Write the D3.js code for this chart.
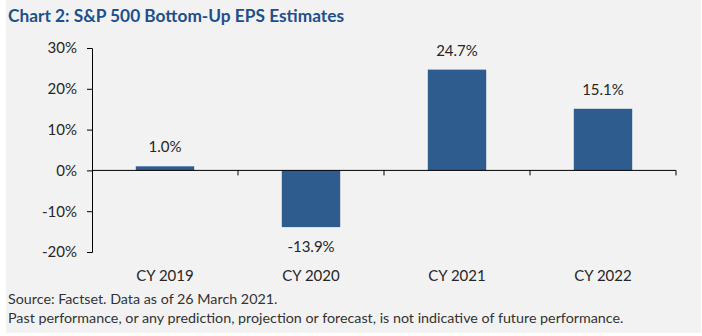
<!DOCTYPE html>
<html>
<head>
<meta charset="utf-8">
<script src="https://cdn.jsdelivr.net/npm/d3@7"></script>
<style>
  html, body { margin: 0; padding: 0; background: #ffffff; }
  svg { display: block; font-family: Lato, "Open Sans", sans-serif; }
</style>
</head>
<body>
<svg id="chart" width="702" height="336"></svg>
<script>
const categories = ['CY 2019', 'CY 2020', 'CY 2021', 'CY 2022'];
const growth = [1.0, -13.9, 24.7, 15.1];
const yTicks = [-20, -10, 0, 10, 20, 30];

const title = 'Chart 2: S&P 500 Bottom-Up EPS Estimates';
const notes = [
  'Source: Factset. Data as of 26 March 2021.',
  'Past performance, or any prediction, projection or forecast, is not indicative of future performance.'
];

const width = 702, height = 336;
const plot = { left: 92, right: 676, top: 48, bottom: 252 };

const svg = d3.select('#chart');

// panel background
svg.append('rect')
  .attr('x', 6).attr('y', 0)
  .attr('width', width - 7).attr('height', 333)
  .attr('fill', '#f2f2f2');

svg.append('text')
  .attr('x', 8).attr('y', 22)
  .attr('fill', '#1f4e8c')
  .style('font-size', '17.3px')
  .style('font-weight', 'bold')
  .text(title);

const x = d3.scaleBand()
  .domain(categories)
  .range([plot.left, plot.right])
  .paddingInner(0.6)
  .paddingOuter(0.3);

const y = d3.scaleLinear()
  .domain([-20, 30])
  .range([plot.bottom, plot.top]);

// y axis
const yAxis = svg.append('g')
  .attr('transform', `translate(${plot.left},0)`)
  .call(d3.axisLeft(y).tickValues(yTicks).tickFormat(d => d + '%').tickSizeOuter(0).tickSize(5).tickPadding(10));
yAxis.select('.domain').attr('stroke', '#000');
yAxis.selectAll('.tick line').attr('stroke', '#000');
yAxis.selectAll('.tick text')
  .attr('fill', '#262626')
  .style('font-size', '15px')
  .style('font-family', 'Lato, sans-serif');

// bars
svg.append('g')
  .selectAll('rect')
  .data(growth)
  .join('rect')
  .attr('x', (d, i) => x(categories[i]))
  .attr('width', x.bandwidth())
  .attr('y', d => y(Math.max(0, d)))
  .attr('height', d => Math.abs(y(d) - y(0)))
  .attr('fill', '#2e5c8f');

// zero line with category separator ticks
const step = (plot.right - plot.left) / categories.length;
const xAxis = svg.append('g')
  .attr('transform', `translate(0,${y(0)})`);
xAxis.append('line')
  .attr('x1', plot.left).attr('x2', plot.right)
  .attr('stroke', '#000');
xAxis.selectAll('.sep')
  .data(d3.range(1, categories.length + 1))
  .join('line')
  .attr('x1', i => plot.left + i * step)
  .attr('x2', i => plot.left + i * step)
  .attr('y1', 0).attr('y2', 5)
  .attr('stroke', '#000');

// value labels
svg.append('g')
  .selectAll('text')
  .data(growth)
  .join('text')
  .attr('x', (d, i) => x(categories[i]) + x.bandwidth() / 2)
  .attr('y', d => d >= 0 ? y(d) - 14 : y(d) + 25)
  .attr('text-anchor', 'middle')
  .attr('fill', '#262626')
  .style('font-size', '15px')
  .text(d => d.toFixed(1) + '%');

// category labels
svg.append('g')
  .selectAll('text')
  .data(categories)
  .join('text')
  .attr('x', d => x(d) + x.bandwidth() / 2)
  .attr('y', 281)
  .attr('text-anchor', 'middle')
  .attr('fill', '#262626')
  .style('font-size', '15px')
  .text(d => d);

// footnotes
svg.append('g')
  .selectAll('text')
  .data(notes)
  .join('text')
  .attr('x', 8)
  .attr('y', (d, i) => 304 + i * 19)
  .attr('fill', '#333')
  .style('font-size', '14.3px')
  .text(d => d);
</script>
</body>
</html>
